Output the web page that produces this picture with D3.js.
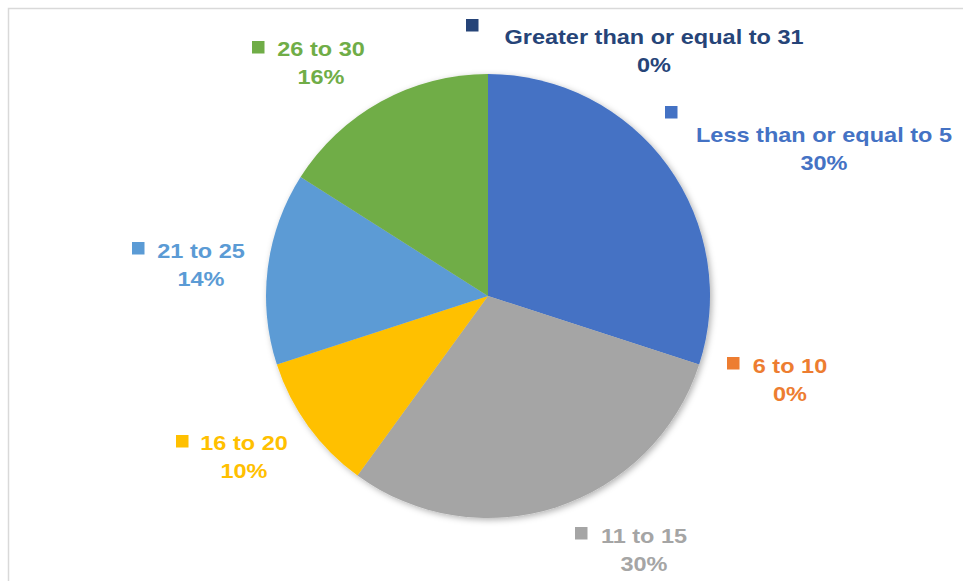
<!DOCTYPE html>
<html>
<head>
<meta charset="utf-8">
<script src="https://cdn.jsdelivr.net/npm/d3@7"></script>
<style>
  body { margin: 0; background: #fff; }
  svg { display: block; }
  .lbl { font-family: "Liberation Sans", Arial, sans-serif; font-weight: bold; font-size: 21px; }
</style>
</head>
<body>
<svg id="chart" width="963" height="581"></svg>
<script>
// categories and shares (%)
var categories = ["Less than or equal to 5", "6 to 10", "11 to 15", "16 to 20", "21 to 25", "26 to 30", "Greater than or equal to 31"];
var shares = [30, 0, 30, 10, 14, 16, 0];
var colors = ["#4472C4", "#ED7D31", "#A5A5A5", "#FFC000", "#5B9BD5", "#70AD47", "#264478"];

// label layout (marker top-left, text centre x, first baseline) - same order as categories
var labelLayout = [
    {mx: 665, my: 106, cx: 824, by: 142},
    {mx: 727, my: 357, cx: 790, by: 373},
    {mx: 575, my: 527, cx: 644, by: 543},
    {mx: 176, my: 435, cx: 244, by: 450},
    {mx: 132, my: 242, cx: 201, by: 258},
    {mx: 252, my: 41,  cx: 321, by: 56},
    {mx: 466, my: 19,  cx: 654, by: 44}
];

var svg = d3.select("#chart");
var cx = 488, cy = 296, r = 222;

// chart area frame
svg.append("rect").attr("x", 8.5).attr("y", 8.5).attr("width", 1000).attr("height", 700)
    .attr("fill", "#fff").attr("stroke", "#D9D9D9").attr("stroke-width", 1.5);

var defs = svg.append("defs");
var f = defs.append("filter").attr("id", "shadow").attr("x", "-10%").attr("y", "-10%").attr("width", "120%").attr("height", "120%");
f.append("feDropShadow").attr("dx", 2).attr("dy", 2).attr("stdDeviation", 3)
    .attr("flood-color", "#000").attr("flood-opacity", 0.3);

var data = categories.map(function(c, i) { return {name: c, value: shares[i], color: colors[i], pos: labelLayout[i]}; });

var pie = d3.pie().sort(null).value(function(d) { return d.value; });
var arc = d3.arc().innerRadius(0).outerRadius(r);

var g = svg.append("g").attr("transform", "translate(" + cx + "," + cy + ")")
    .attr("filter", "url(#shadow)");

g.selectAll("path").data(pie(data)).enter().append("path")
    .attr("d", arc)
    .attr("fill", function(d) { return d.data.color; });

// data labels with legend keys
var lab = svg.append("g").selectAll("g").data(data).enter().append("g");

lab.append("rect")
    .attr("x", function(d) { return d.pos.mx; })
    .attr("y", function(d) { return d.pos.my; })
    .attr("width", 12.5).attr("height", 12.5)
    .attr("fill", function(d) { return d.color; });

var t = lab.append("text").attr("class", "lbl")
    .attr("text-anchor", "middle")
    .attr("fill", function(d) { return d.color; })
    .attr("transform", function(d) { return "translate(" + d.pos.cx + "," + d.pos.by + ") scale(1.12,1)"; });

t.append("tspan").attr("x", 0).attr("y", 0).text(function(d) { return d.name; });
t.append("tspan").attr("x", 0).attr("y", 28).text(function(d) { return d3.format(".0f")(d.value) + "%"; });
</script>
</body>
</html>
